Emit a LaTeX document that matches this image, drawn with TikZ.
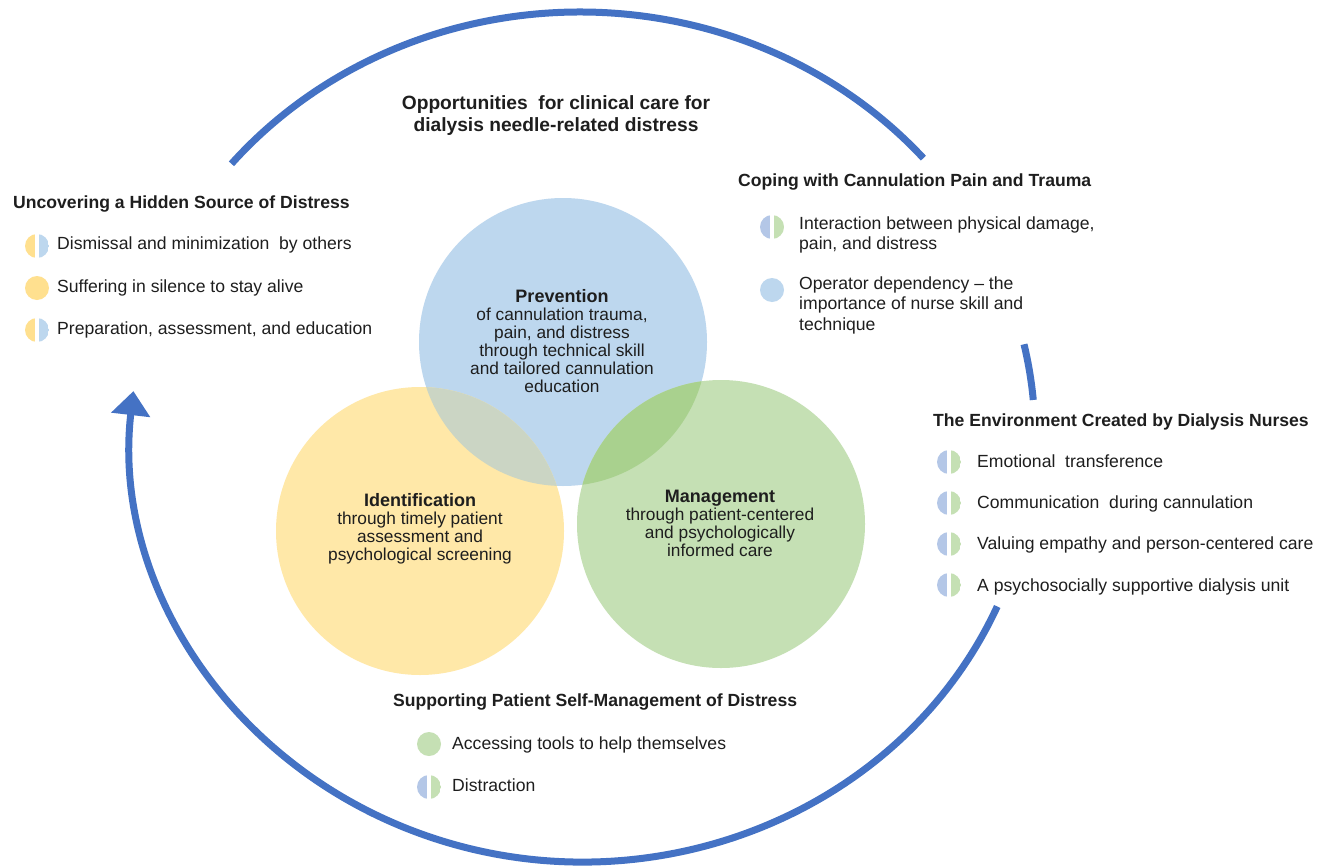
\documentclass[tikz,border=0pt]{standalone}
\usepackage{fontspec}
\setmainfont{Liberation Sans}
\usetikzlibrary{arrows.meta,calc}

\definecolor{cycleblue}{HTML}{4472C4}
\definecolor{ink}{HTML}{1E1E1E}
\definecolor{prevfill}{HTML}{BDD7EE}
\definecolor{identfill}{HTML}{FFE8A8}
\definecolor{mgmtfill}{HTML}{C5E0B4}
\definecolor{ovlBY}{HTML}{CBD5C4}
\definecolor{ovlBG}{HTML}{A9D18E}
\definecolor{dotyel}{HTML}{FFE08F}
\definecolor{dotsky}{HTML}{BDD7EE}
\definecolor{dotperi}{HTML}{B4C7E7}
\definecolor{dotgreen}{HTML}{C5E0B4}

\begin{document}
\begin{tikzpicture}[x=1pt,y=-1pt,
  cyc/.style={draw=cycleblue, line width=7pt},
  venn/.style={circle, minimum size=288pt, inner sep=0pt, draw=none},
  vtext/.style={align=center, inner sep=0pt, text=ink, font=\fontsize{17.3}{18}\selectfont},
  title/.style={align=center, inner sep=0pt, text=ink, font=\bfseries\fontsize{19.2}{22}\selectfont},
  head/.style={anchor=base west, inner sep=0pt, text=ink, font=\bfseries\fontsize{17.6}{20}\selectfont},
  itemtext/.style={anchor=base west, inner sep=0pt, text=ink, font=\fontsize{17.6}{20.5}\selectfont},
  itemblock/.style={anchor=north west, align=left, inner sep=0pt, text=ink, font=\fontsize{17.6}{20.5}\selectfont},
  fulldot/.style={circle, minimum size=24pt, inner sep=0pt, fill=#1},
  splitdot/.style 2 args={circle, minimum size=24pt, inner sep=0pt,
    path picture={
      \fill[#1] (path picture bounding box.south west) rectangle ([xshift=-1.7pt]path picture bounding box.north);
      \fill[#2] ([xshift=1.7pt]path picture bounding box.south) rectangle (path picture bounding box.north east);
    }},
]
\useasboundingbox (0,0) rectangle (1317,867);
\fill[white] (0,0) rectangle (1317,867);

% ---- Venn circles ----
\node[venn, fill=prevfill] (prev) at (563,342) {};
\node[venn, fill=identfill] (ident) at (420,531) {};
\node[venn, fill=mgmtfill] (mgmt) at (721,524) {};
\begin{scope}
  \clip (prev.center) circle (144);
  \fill[ovlBY] (ident.center) circle (144);
  \fill[ovlBG] (mgmt.center) circle (144);
\end{scope}

\node[vtext, anchor=north] (prevtext) at (562,289.5)
  {{\bfseries\fontsize{18}{18}\selectfont Prevention}\\of cannulation trauma,\\pain, and distress\\through technical skill\\and tailored cannulation\\education};
\node[vtext, anchor=north] (identtext) at (420,493.4)
  {{\bfseries\fontsize{18}{18}\selectfont Identification}\\through timely patient\\assessment and\\psychological screening};
\node[vtext, anchor=north] (mgmttext) at (720,490.4)
  {{\bfseries\fontsize{18}{18}\selectfont Management}\\through patient-centered\\and psychologically\\informed care};

% ---- cycle around the diagram ----
\coordinate (C) at (580,437);
\draw[cyc] ($(C)+(-140:455 and 425)$) arc[start angle=-140, end angle=-41, x radius=455, y radius=425];
\draw[cyc] ($(C)+(-12.6:455 and 425)$) arc[start angle=-12.6, end angle=-5, x radius=455, y radius=425];
\draw[cyc, -{Triangle[length=24pt,width=38pt]}] ($(C)+(23.5:455 and 425)$) arc[start angle=23.5, end angle=186.2, x radius=452, y radius=425];

% ---- title ----
\node[title, anchor=north] (maintitle) at (556,95.5)
  {Opportunities\ \ for clinical care for\\dialysis needle-related distress};

% ---- Uncovering a Hidden Source of Distress ----
\node[head] (h1) at (13,208.4) {Uncovering a Hidden Source of Distress};
\node[splitdot={dotyel}{dotsky}] (d11) at (37,246) {};
\node[fulldot=dotyel] (d12) at (37,288) {};
\node[splitdot={dotyel}{dotsky}] (d13) at (37,330) {};
\node[itemtext] (t11) at (57,249) {Dismissal and minimization\ \ by others};
\node[itemtext] (t12) at (57,292) {Suffering in silence to stay alive};
\node[itemtext] (t13) at (57,334) {Preparation, assessment, and education};

% ---- Coping with Cannulation Pain and Trauma ----
\node[head] (h2) at (738,186.4) {Coping with Cannulation Pain and Trauma};
\node[splitdot={dotperi}{dotgreen}] (d21) at (772,227) {};
\node[fulldot=dotsky] (d22) at (772,290) {};
\node[itemblock] (t21) at (799,216.4) {Interaction between physical damage,\\pain, and distress};
\node[itemblock] (t22) at (799,276.4) {Operator dependency -- the\\importance of nurse skill and\\technique};

% ---- The Environment Created by Dialysis Nurses ----
\node[head] (h3) at (933,426.4) {The Environment Created by Dialysis Nurses};
\node[splitdot={dotperi}{dotgreen}] (d31) at (949,462) {};
\node[splitdot={dotperi}{dotgreen}] (d32) at (949,503) {};
\node[splitdot={dotperi}{dotgreen}] (d33) at (949,544) {};
\node[splitdot={dotperi}{dotgreen}] (d34) at (949,585) {};
\node[itemtext] (t31) at (977,467) {Emotional\ \ transference};
\node[itemtext] (t32) at (977,508) {Communication\ \ during cannulation};
\node[itemtext] (t33) at (977,549) {Valuing empathy and person-centered care};
\node[itemtext] (t34) at (977,591) {A psychosocially supportive dialysis unit};

% ---- Supporting Patient Self-Management of Distress ----
\node[head] (h4) at (393,706.4) {Supporting Patient Self-Management of Distress};
\node[fulldot=dotgreen] (d41) at (429,744) {};
\node[splitdot={dotperi}{dotgreen}] (d42) at (429,787) {};
\node[itemtext] (t41) at (452,749) {Accessing tools to help themselves};
\node[itemtext] (t42) at (452,791) {Distraction};
\end{tikzpicture}
\end{document}
